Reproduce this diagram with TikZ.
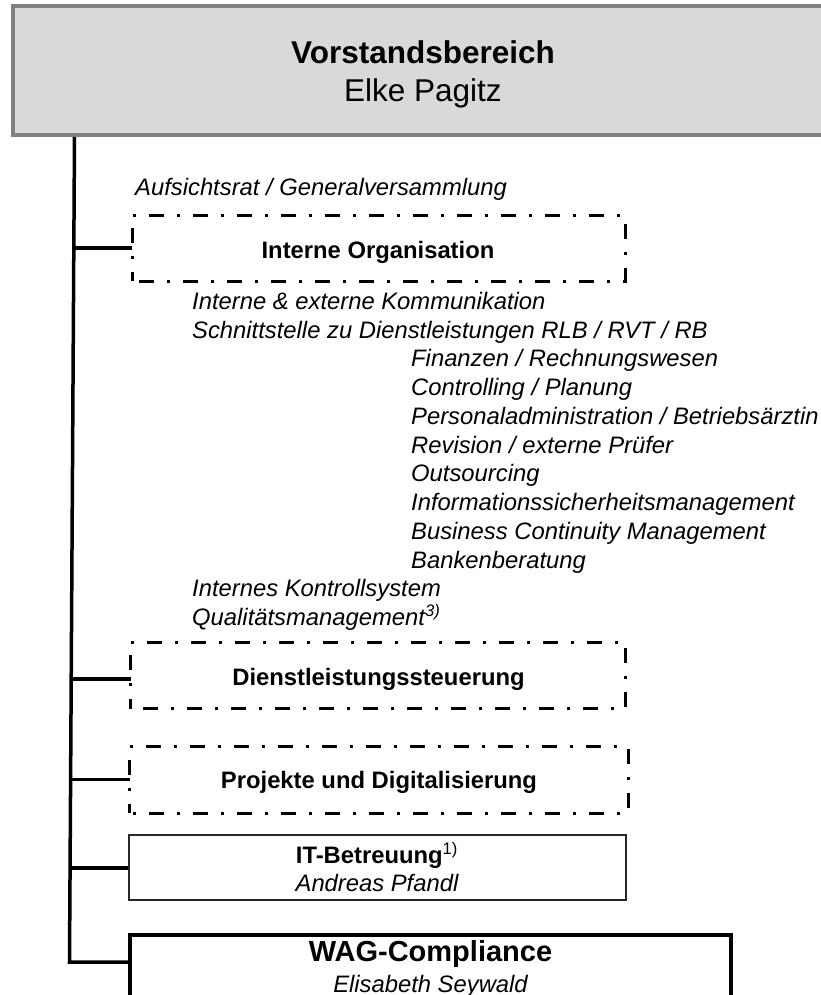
\documentclass[tikz,border=0pt]{standalone}
\usepackage{fontspec}
\setmainfont{Liberation Sans}
\usetikzlibrary{calc}
\definecolor{boxgray}{HTML}{D9D9D9}
\definecolor{edgegray}{HTML}{808080}
\begin{document}
\begin{tikzpicture}[x=1pt,y=-1pt,
  lbl/.style={inner sep=0pt, anchor=base},
  lst/.style={inner sep=0pt, anchor=base west, font=\fontsize{23.8}{28}\selectfont\itshape},
  boldf/.style={font=\fontsize{23.8}{28}\selectfont\bfseries},
  itf/.style={font=\fontsize{23.8}{28}\selectfont\itshape},
  emptybox/.style={draw=none, inner sep=0pt},
  dashdot/.style={line width=3pt, dash pattern=on 15pt off 13pt on 3pt off 13pt, dash phase=5.5pt},
  trunk/.style={line width=3.5pt},
]
\useasboundingbox (0,0) rectangle (821,995);

% top box
\node[draw=edgegray, fill=boxgray, line width=4pt, minimum width=821pt, minimum height=129.5pt, inner sep=0pt] (vb) at (423,70.75) {};
\node[lbl, font=\fontsize{31.5}{36}\selectfont\bfseries] (vbt) at (423,64) {Vorstandsbereich};
\node[lbl, font=\fontsize{31.5}{36}\selectfont] (vbn) at (423,101.7) {Elke Pagitz};

% boxes
\node[emptybox, minimum width=492.5pt, minimum height=65pt] (io) at (378.75,248.5) {};
\node[emptybox, minimum width=494.6pt, minimum height=65.6pt] (ds) at (378.3,675.5) {};
\node[emptybox, minimum width=498pt, minimum height=65.7pt] (pd) at (379,780) {};
\node[draw=black!85, line width=1.2pt, inner sep=0pt, minimum width=497pt, minimum height=65pt] (it) at (377.5,867.5) {};
\node[draw=black, line width=4pt, inner sep=0pt, minimum width=601pt, minimum height=95pt] (wag) at (430.5,982.5) {};

\foreach \b in {io,ds,pd}{
  \draw[dashdot] (\b.south west) -- (\b.north west) -- (\b.north east) -- (\b.south east) -- cycle;
}

% trunk and branches
\coordinate (ttop) at (74.5,137);
\coordinate (tbot) at (69.5,962);
\coordinate (b1) at ($(ttop)!0.1345!(tbot)$);
\coordinate (b2) at ($(ttop)!0.657!(tbot)$);
\coordinate (b3) at ($(ttop)!0.779!(tbot)$);
\coordinate (b4) at ($(ttop)!0.886!(tbot)$);
\draw[trunk] (ttop) -- (tbot) -- (tbot -| wag.west);
\draw[trunk] (b1) -- (b1 -| io.west);
\draw[trunk] (b2) -- (b2 -| ds.west);
\draw[trunk] (b3) -- (b3 -| pd.west);
\draw[trunk] (b4) -- (b4 -| it.west);

% labels
\node[lst] (ar) at (135,196) {Aufsichtsrat / Generalversammlung};
\node[lbl, boldf] (iot) at (378,258.3) {Interne Organisation};
\node[lbl, boldf] (dst) at (378.5,685.7) {Dienstleistungssteuerung};
\node[lbl, boldf] (pdt) at (379,788.5) {Projekte und Digitalisierung};
\node[lbl, boldf] (itt) at (377,863.3) {IT-Betreuung\textmd{\textsuperscript{1)}}};
\node[lbl, itf] (itn) at (377,891.7) {Andreas Pfandl};
\node[lbl, font=\fontsize{29}{34}\selectfont\bfseries] (wagt) at (430.5,961.7) {WAG-Compliance};
\node[lbl, itf] (wagn) at (430.5,992.7) {Elisabeth Seywald};

% list
\node[lst] (l1) at (192,309.3) {Interne \& externe Kommunikation};
\node[lst] (l2) at (192,338.05) {Schnittstelle zu Dienstleistungen RLB / RVT / RB};
\node[lst] (l3) at (411,366.8) {Finanzen / Rechnungswesen};
\node[lst] (l4) at (411,395.55) {Controlling / Planung};
\node[lst] (l5) at (411,424.3) {Personaladministration / Betriebsärztin};
\node[lst] (l6) at (411,453.05) {Revision / externe Prüfer};
\node[lst] (l7) at (411,481.8) {Outsourcing};
\node[lst] (l8) at (411,510.55) {Informationssicherheitsmanagement};
\node[lst] (l9) at (411,539.3) {Business Continuity Management};
\node[lst] (l10) at (411,568.05) {Bankenberatung};
\node[lst] (l11) at (192,596.8) {Internes Kontrollsystem};
\node[lst] (l12) at (192,625.55) {Qualitätsmanagement\textsuperscript{3)}};
\end{tikzpicture}
\end{document}
